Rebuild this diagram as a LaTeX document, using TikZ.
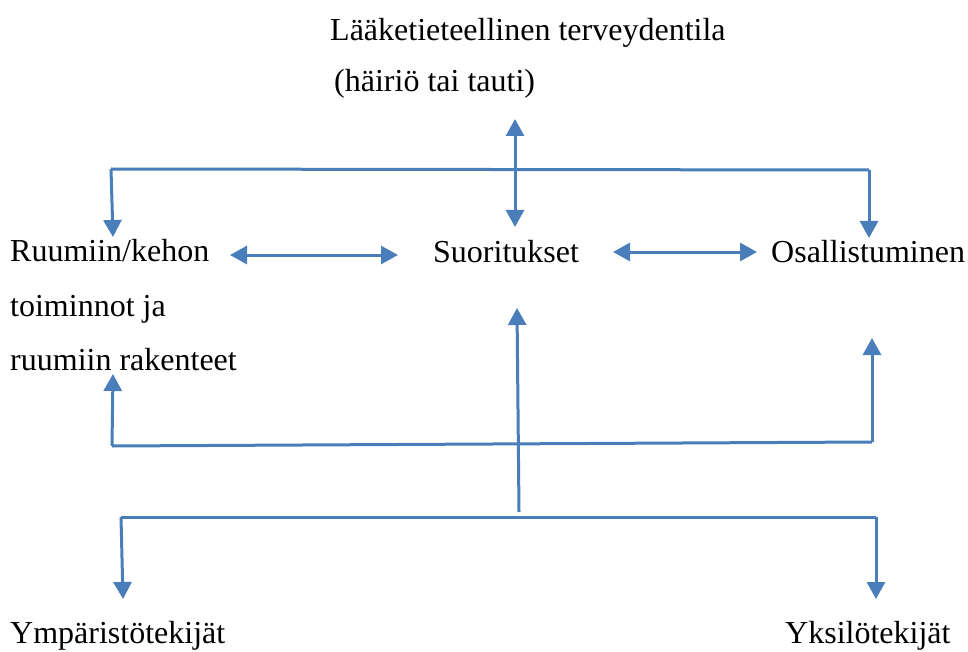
\documentclass[tikz,border=0pt]{standalone}
\usepackage{fontspec}
\setmainfont{Liberation Serif}
\usetikzlibrary{arrows.meta}
\definecolor{linkblue}{HTML}{4A7EBB}
\tikzset{
  label/.style={anchor=base west, inner sep=0pt, font=\fontsize{32}{54}\selectfont},
  link/.style={draw=linkblue, line width=3pt},
  tip/.tip={Triangle[length=17pt,width=18pt]},
  onearrow/.style={link, -tip},
  twoarrow/.style={link, tip-tip}
}
\begin{document}
\begin{tikzpicture}[x=1pt, y=-1pt]
  \useasboundingbox (0,0) rectangle (968,652);

  % labels
  \node[label] (cond)  at (330,41)  {Lääketieteellinen terveydentila};
  \node[label] (cond2) at (334,92)  {(häiriö tai tauti)};
  \node[label] (body)  at (10,261)  {Ruumiin/kehon};
  \node[label] (body2) at (10,316)  {toiminnot ja};
  \node[label] (body3) at (10,370)  {ruumiin rakenteet};
  \node[label] (act)   at (433,262) {Suoritukset};
  \node[label] (part)  at (771,262) {Osallistuminen};
  \node[label] (env)   at (10,643)  {Ympäristötekijät};
  \node[label] (pers)  at (785,643) {Yksilötekijät};

  % end points of the connectors
  \coordinate (cTop)   at (515,119);
  \coordinate (cAct)   at (515,227);
  \coordinate (tL)     at (111,169);
  \coordinate (tR)     at (869,170);
  \coordinate (tLend)  at (113,237);
  \coordinate (tRend)  at (869,238);
  \coordinate (hLa)    at (230,255);
  \coordinate (hLb)    at (398,255);
  \coordinate (hRa)    at (613,252);
  \coordinate (hRb)    at (757,252);
  \coordinate (mL)     at (112,446);
  \coordinate (mR)     at (872,442);
  \coordinate (mLend)  at (113,374);
  \coordinate (mRend)  at (872,338);
  \coordinate (cBot)   at (519,512);
  \coordinate (cUp)    at (517,308);
  \coordinate (bL)     at (121,517);
  \coordinate (bR)     at (876,517);
  \coordinate (bLend)  at (123,599);
  \coordinate (bRend)  at (876,599);

  % health condition <-> activities
  \draw[twoarrow] (cTop) -- (cAct);
  % upper bracket
  \draw[link] (tL) -- (tR);
  \draw[onearrow] (tL) -- (tLend);
  \draw[onearrow] (tR) -- (tRend);
  % horizontal links in the middle row
  \draw[twoarrow] (hLa) -- (hLb);
  \draw[twoarrow] (hRa) -- (hRb);
  % lower bracket
  \draw[link] (mL) -- (mR);
  \draw[onearrow] (mL) -- (mLend);
  \draw[onearrow] (mR) -- (mRend);
  % contextual factors
  \draw[onearrow] (cBot) -- (cUp);
  \draw[link] (bL) -- (bR);
  \draw[onearrow] (bL) -- (bLend);
  \draw[onearrow] (bR) -- (bRend);
\end{tikzpicture}
\end{document}
